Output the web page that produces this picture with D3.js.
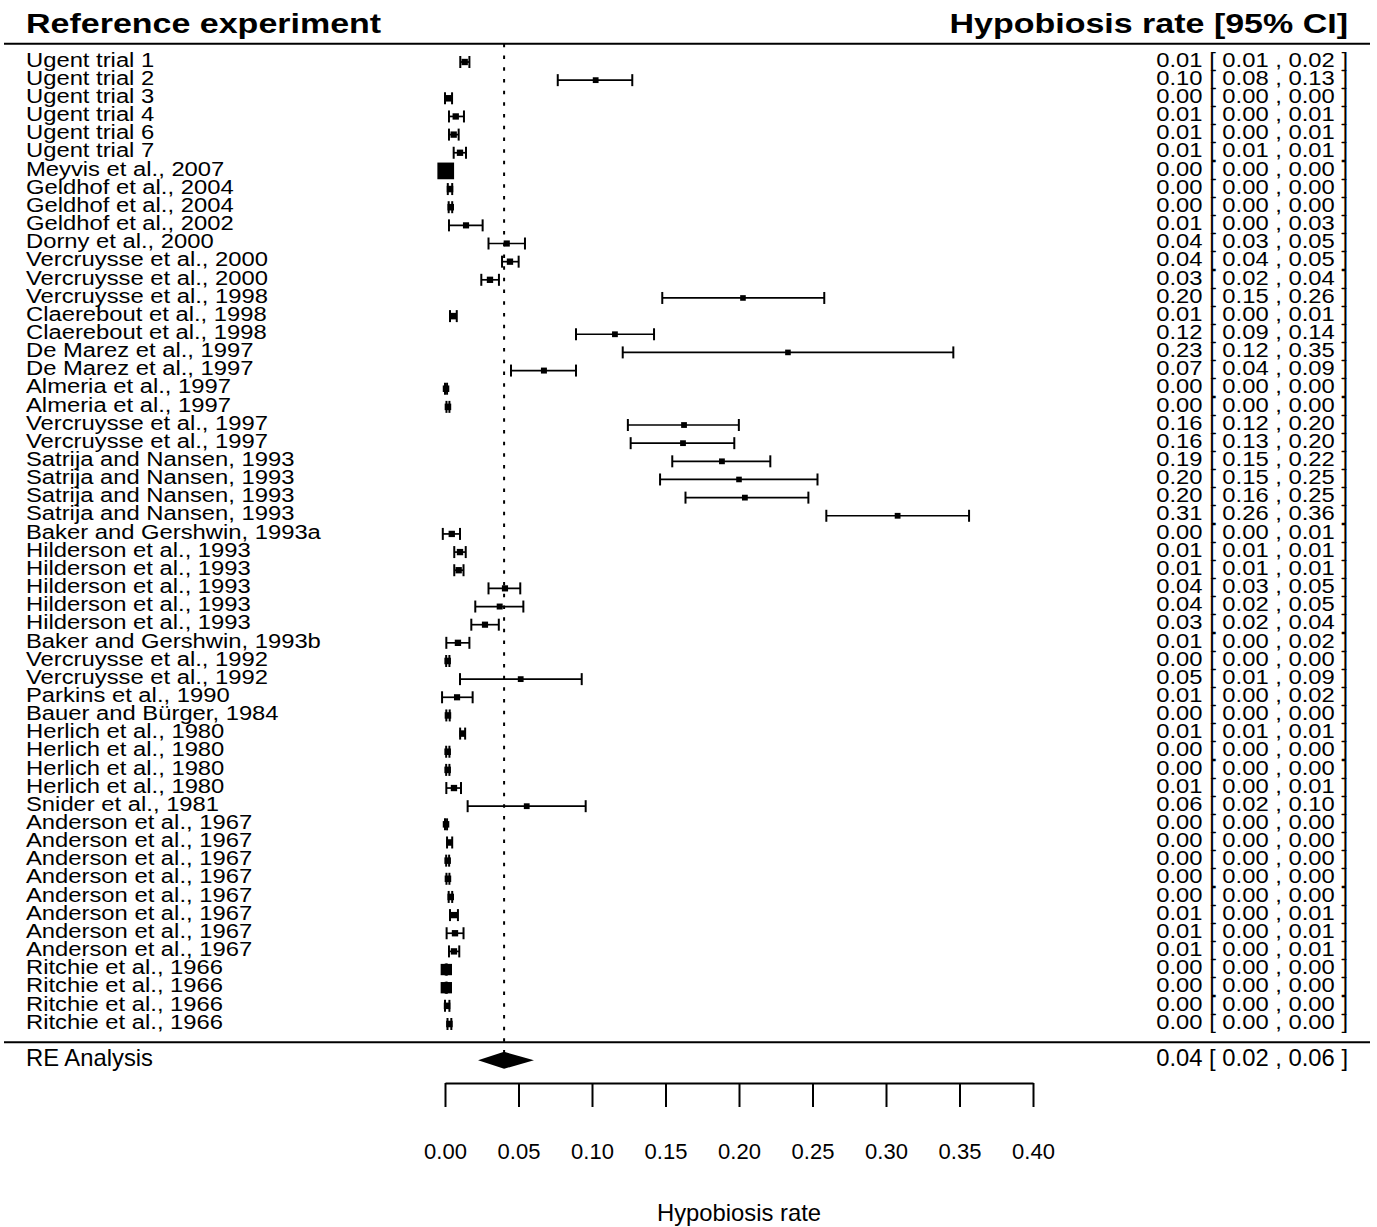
<!DOCTYPE html>
<html>
<head>
<meta charset="utf-8">
<script src="https://cdn.jsdelivr.net/npm/d3@7/dist/d3.min.js"></script>
<style>
  body { margin: 0; background: #fff; }
  svg { display: block; }
  text { font-family: "Liberation Sans", Arial, sans-serif; fill: #000; }
</style>
</head>
<body>
<svg width="1377" height="1227"></svg>
<script>
// study labels, top to bottom
const studies = [
  "Ugent trial 1", "Ugent trial 2", "Ugent trial 3", "Ugent trial 4", "Ugent trial 6", "Ugent trial 7",
  "Meyvis et al., 2007", "Geldhof et al., 2004", "Geldhof et al., 2004", "Geldhof et al., 2002",
  "Dorny et al., 2000", "Vercruysse et al., 2000", "Vercruysse et al., 2000", "Vercruysse et al., 1998",
  "Claerebout et al., 1998", "Claerebout et al., 1998", "De Marez et al., 1997", "De Marez et al., 1997",
  "Almeria et al., 1997", "Almeria et al., 1997", "Vercruysse et al., 1997", "Vercruysse et al., 1997",
  "Satrija and Nansen, 1993", "Satrija and Nansen, 1993", "Satrija and Nansen, 1993", "Satrija and Nansen, 1993",
  "Baker and Gershwin, 1993a", "Hilderson et al., 1993", "Hilderson et al., 1993", "Hilderson et al., 1993",
  "Hilderson et al., 1993", "Hilderson et al., 1993", "Baker and Gershwin, 1993b", "Vercruysse et al., 1992",
  "Vercruysse et al., 1992", "Parkins et al., 1990", "Bauer and Bürger, 1984", "Herlich et al., 1980",
  "Herlich et al., 1980", "Herlich et al., 1980", "Herlich et al., 1980", "Snider et al., 1981",
  "Anderson et al., 1967", "Anderson et al., 1967", "Anderson et al., 1967", "Anderson et al., 1967",
  "Anderson et al., 1967", "Anderson et al., 1967", "Anderson et al., 1967", "Anderson et al., 1967",
  "Ritchie et al., 1966", "Ritchie et al., 1966", "Ritchie et al., 1966", "Ritchie et al., 1966"
];

// hypobiosis rate estimates
const est = [
  0.0134, 0.1025, 0.0024, 0.0073, 0.0059, 0.0102, 0.0005, 0.0034, 0.0039, 0.0143,
  0.0420, 0.0442, 0.0306, 0.2027, 0.0057, 0.1156, 0.2333, 0.0673, 0.0007, 0.0020,
  0.1626, 0.1619, 0.1884, 0.2000, 0.2040, 0.3079, 0.0046, 0.0102, 0.0093, 0.0408,
  0.0372, 0.0272, 0.0088, 0.0018, 0.0515, 0.0082, 0.0020, 0.0120, 0.0018, 0.0018,
  0.0061, 0.0556, 0.0007, 0.0032, 0.0018, 0.0020, 0.0039, 0.0061, 0.0068, 0.0061,
  0.0009, 0.0009, 0.0014, 0.0030
];

// lower 95% CI
const ciLo = [
  0.0104, 0.0767, 0.0000, 0.0027, 0.0027, 0.0059, 0.0003, 0.0019, 0.0025, 0.0027,
  0.0296, 0.0388, 0.0247, 0.1478, 0.0034, 0.0891, 0.1209, 0.0449, 0.0000, 0.0010,
  0.1244, 0.1263, 0.1546, 0.1463, 0.1636, 0.2594, -0.0015, 0.0063, 0.0063, 0.0296,
  0.0206, 0.0179, 0.0009, 0.0008, 0.0102, -0.0020, 0.0009, 0.0103, 0.0008, 0.0008,
  0.0009, 0.0154, 0.0000, 0.0014, 0.0008, 0.0010, 0.0025, 0.0034, 0.0011, 0.0027,
  0.0005, 0.0005, 0.0000, 0.0017
];

// upper 95% CI
const ciHi = [
  0.0166, 0.1274, 0.0048, 0.0129, 0.0093, 0.0143, 0.0007, 0.0049, 0.0049, 0.0256,
  0.0544, 0.0501, 0.0367, 0.2580, 0.0080, 0.1422, 0.3458, 0.0891, 0.0014, 0.0030,
  0.1999, 0.1968, 0.2213, 0.2534, 0.2472, 0.3565, 0.0102, 0.0141, 0.0126, 0.0512,
  0.0533, 0.0366, 0.0166, 0.0030, 0.0930, 0.0188, 0.0032, 0.0137, 0.0030, 0.0030,
  0.0109, 0.0957, 0.0014, 0.0049, 0.0028, 0.0030, 0.0049, 0.0088, 0.0126, 0.0097,
  0.0013, 0.0013, 0.0030, 0.0043
];

// RE model weights (%)
const weights = [
  1.84, 1.81, 1.85, 1.84, 1.84, 1.84, 2.40, 1.85, 1.85, 1.83,
  1.83, 1.84, 1.84, 1.80, 1.85, 1.81, 1.80, 1.82, 1.85, 1.85,
  1.81, 1.81, 1.81, 1.80, 1.81, 1.81, 1.84, 1.84, 1.84, 1.83,
  1.82, 1.83, 1.84, 1.85, 1.81, 1.83, 1.85, 1.85, 1.85, 1.85,
  1.84, 1.81, 1.85, 1.85, 1.85, 1.85, 1.85, 1.84, 1.84, 1.84,
  2.11, 2.11, 1.85, 1.85
];

// random-effects summary
const reEst = 0.0402, reLo = 0.0225, reHi = 0.0605;

const ticks = [0, 0.05, 0.10, 0.15, 0.20, 0.25, 0.30, 0.35, 0.40];

let svg = d3.select("svg");
let fmt = d3.format(".2f");

let x = d3.scaleLinear().domain([0, 0.4]).range([445, 1033]);
let y = d3.scaleLinear().domain([0, studies.length - 1]).range([62, 1024]);
let size = d3.scaleLinear().domain(d3.extent(weights)).range([5.6, 16.7]);

let rows = studies.map(function (s, i) {
  return { label: s, est: est[i], lo: ciLo[i], hi: ciHi[i], w: weights[i], i: i };
});

// text helper: squashed text like the R device output
function txt(g, str, tx, ty, opts) {
  let t = g.append("text")
    .attr("transform", "translate(" + tx + "," + ty + ") scale(1," + (opts.sy || 1) + ")")
    .attr("font-size", opts.size)
    .attr("text-anchor", opts.anchor || "start")
    .text(str);
  if (opts.bold) t.attr("font-weight", "bold");
  return t;
}

// header
txt(svg, "Reference experiment", 26, 33, { size: 34, sy: 0.83, bold: true });
txt(svg, "Hypobiosis rate [95% CI]", 1348, 33, { size: 34, sy: 0.83, bold: true, anchor: "end" });

// separator lines
let yTop = y(-1), yBot = y(studies.length), yRE = y(studies.length + 1);
svg.append("line").attr("x1", 4).attr("x2", 1370).attr("y1", yTop).attr("y2", yTop)
  .attr("stroke", "#000").attr("stroke-width", 2);
svg.append("line").attr("x1", 4).attr("x2", 1370).attr("y1", yBot).attr("y2", yBot)
  .attr("stroke", "#000").attr("stroke-width", 2);

// reference line at the pooled estimate
svg.append("line")
  .attr("x1", x(reEst)).attr("x2", x(reEst))
  .attr("y1", yTop).attr("y2", yRE + 12)
  .attr("stroke", "#000").attr("stroke-width", 2)
  .attr("stroke-dasharray", "3.5,8.2");

// study rows
let g = svg.append("g").attr("class", "rows");

let row = g.selectAll("g.row").data(rows).enter().append("g").attr("class", "row");

row.append("line")
  .attr("x1", function (d) { return x(d.lo); })
  .attr("x2", function (d) { return x(d.hi); })
  .attr("y1", function (d) { return y(d.i); })
  .attr("y2", function (d) { return y(d.i); })
  .attr("stroke", "#000").attr("stroke-width", 1.7);

["lo", "hi"].forEach(function (k) {
  row.append("line")
    .attr("x1", function (d) { return x(d[k]); })
    .attr("x2", function (d) { return x(d[k]); })
    .attr("y1", function (d) { return y(d.i) - 6; })
    .attr("y2", function (d) { return y(d.i) + 6; })
    .attr("stroke", "#000").attr("stroke-width", 2);
});

row.append("rect")
  .attr("x", function (d) { return x(d.est) - size(d.w) / 2; })
  .attr("y", function (d) { return y(d.i) - size(d.w) / 2; })
  .attr("width", function (d) { return size(d.w); })
  .attr("height", function (d) { return size(d.w); })
  .attr("fill", "#000");

row.each(function (d) {
  let r = d3.select(this);
  txt(r, d.label, 26, y(d.i) + 4.7, { size: 23.8, sy: 0.82 });
  txt(r, fmt(d.est) + " [ " + fmt(d.lo) + " , " + fmt(d.hi) + " ]", 1348, y(d.i) + 4.7,
    { size: 23.8, sy: 0.82, anchor: "end" });
});

// RE summary
txt(svg, "RE Analysis", 26, yRE + 6, { size: 23.8 });
txt(svg, fmt(reEst) + " [ " + fmt(reLo) + " , " + fmt(reHi) + " ]", 1348, yRE + 6,
  { size: 23.8, anchor: "end" });
svg.append("polygon")
  .attr("points", [
    [x(reLo), yRE], [x(reEst), yRE - 8.5], [x(reHi), yRE], [x(reEst), yRE + 8.5]
  ].map(function (p) { return p.join(","); }).join(" "))
  .attr("fill", "#000");

// x axis
let axisY = 1083;
let axis = svg.append("g")
  .attr("transform", "translate(0," + axisY + ")")
  .call(d3.axisBottom(x).tickValues(ticks).tickFormat(fmt)
    .tickSize(24).tickSizeOuter(0).tickPadding(36));
axis.select(".domain").attr("stroke-width", 2);
axis.selectAll(".tick line").attr("stroke-width", 2);
axis.selectAll(".tick text")
  .attr("font-size", 22)
  .attr("font-family", '"Liberation Sans", Arial, sans-serif');

txt(svg, "Hypobiosis rate", x(0.2), 1221, { size: 23.8, anchor: "middle" });
</script>
</body>
</html>
